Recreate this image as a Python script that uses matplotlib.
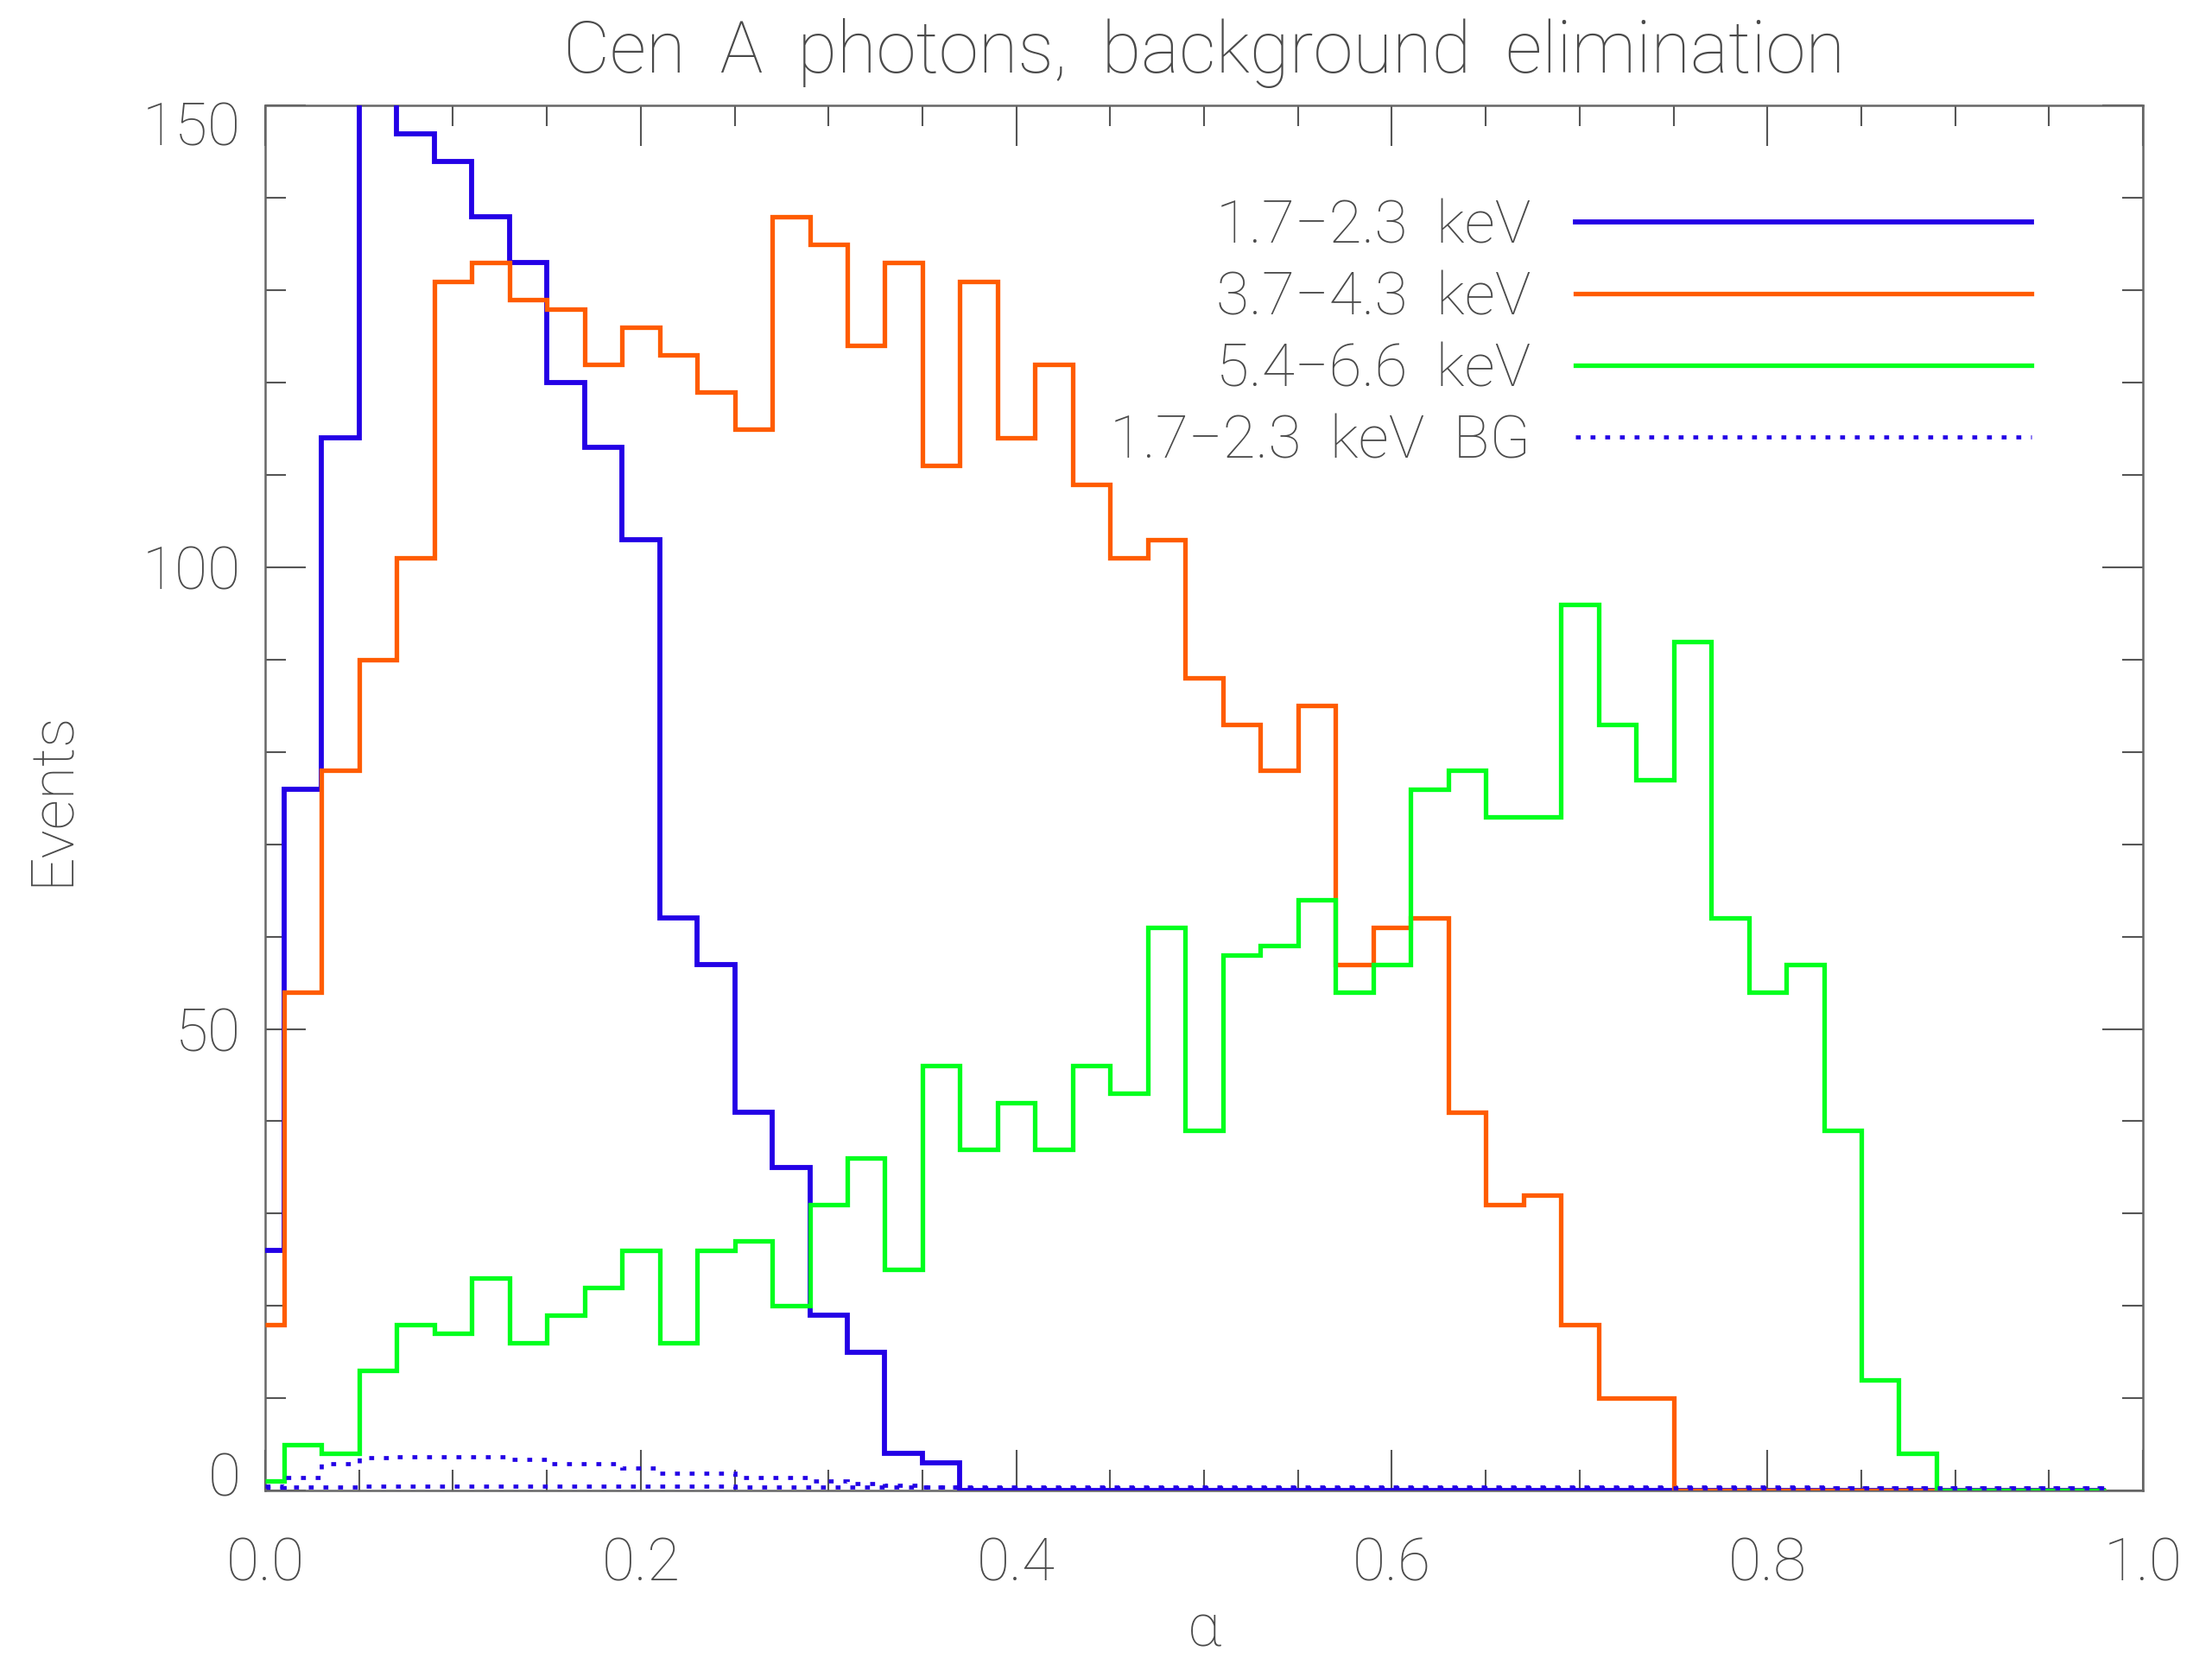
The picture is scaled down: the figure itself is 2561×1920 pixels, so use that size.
import numpy as np
import matplotlib
matplotlib.use("Agg")
import matplotlib.pyplot as plt
import matplotlib.transforms as mtransforms
from matplotlib.ticker import MultipleLocator, FixedLocator

# ---- data (bin centres in alpha, step 0.02) ----
alpha = np.round(np.arange(50) * 0.02, 2)

blue_17_23 = [26, 76, 114, 160, 147, 144, 138, 133, 120, 113,
              103, 62, 57, 41, 35, 19, 15, 4, 3, 0,
              0, 0, 0, 0, 0, 0, 0, 0, 0, 0,
              0, 0, 0, 0, 0, 0, 0, 0, 0, 0,
              0, 0, 0, 0, 0, 0, 0, 0, 0, 0]

orange_37_43 = [18, 54, 78, 90, 101, 131, 133, 129, 128, 122,
                126, 123, 119, 115, 138, 135, 124, 133, 111, 131,
                114, 122, 109, 101, 103, 88, 83, 78, 85, 57,
                61, 62, 41, 31, 32, 18, 10, 10, 0, 0,
                0, 0, 0, 0, 0, 0, 0, 0, 0, 0]

green_54_66 = [1, 5, 4, 13, 18, 17, 23, 16, 19, 22,
               26, 16, 26, 27, 20, 31, 36, 24, 46, 37,
               42, 37, 46, 43, 61, 39, 58, 59, 64, 54,
               57, 76, 78, 73, 73, 96, 83, 77, 92, 62,
               54, 57, 39, 12, 4, 0, 0, 0, 0, 0]

bg_17_23 = [0.5, 1.4, 2.9, 3.6, 3.7, 3.7, 3.7, 3.4, 2.9, 2.9,
            2.4, 1.9, 1.9, 1.4, 1.4, 1.0, 0.8, 0.6, 0.4, 0.3,
            0.3, 0.3, 0.3, 0.3, 0.3, 0.3, 0.3, 0.3, 0.3, 0.3,
            0.3, 0.3, 0.3, 0.3, 0.3, 0.3, 0.3, 0.3, 0.3, 0.3,
            0.3, 0.3, 0.3, 0.3, 0.3, 0.3, 0.3, 0.3, 0.3, 0.3]

bg_low = [0.3, 0.4, 0.4, 0.5, 0.5, 0.5, 0.5, 0.5, 0.5, 0.5,
          0.5, 0.5, 0.5, 0.4, 0.4, 0.4, 0.4, 0.4, 0.4, 0.4,
          0.4, 0.4, 0.4, 0.4, 0.4, 0.4, 0.4, 0.4, 0.4, 0.4,
          0.4, 0.4, 0.4, 0.4, 0.4, 0.4, 0.4, 0.4, 0.4, 0.4,
          0.4, 0.4, 0.3, 0.3, 0.3, 0.3, 0.3, 0.3, 0.3, 0.3]

labels = ["1.7\u22122.3  keV", "3.7\u22124.3  keV", "5.4\u22126.6  keV", "1.7\u22122.3  keV  BG"]
xticks = [0.0, 0.2, 0.4, 0.6, 0.8, 1.0]
yticks = [0, 50, 100, 150]

# ---- style ----
FONT = ["Roboto", "DejaVu Sans"]
plt.rcParams["font.family"] = FONT
TXT = "#4a4a4a"
C_BLUE = "#2300e6"
C_ORANGE = "#ff5c00"
C_GREEN = "#00ff1e"
FS = 50

fig = plt.figure(figsize=(25.61, 19.20), dpi=100)
ax = fig.add_axes([0.1199, 0.1010, 0.8489, 0.8352])

# IDL psym=10 style edges: half bins at both ends
edges = np.concatenate([[alpha[0]], (alpha[:-1] + alpha[1:]) / 2, [alpha[-1]]])

dot = (0, (1.2, 2.4))
ax.stairs(bg_low, edges, baseline=None, color=C_BLUE, lw=3.4, linestyle=dot, zorder=2)
ax.stairs(blue_17_23, edges, baseline=None, color=C_BLUE, lw=4.2, label=labels[0], zorder=3)
ax.stairs(orange_37_43, edges, baseline=None, color=C_ORANGE, lw=3.8, label=labels[1], zorder=3)
ax.stairs(green_54_66, edges, baseline=None, color=C_GREEN, lw=3.8, label=labels[2], zorder=3)
ax.stairs(bg_17_23, edges, baseline=None, color=C_BLUE, lw=3.4, linestyle=dot, label=labels[3], zorder=4)

ax.set_xlim(0, 1.0)
ax.set_ylim(0, 150)

ax.xaxis.set_major_locator(FixedLocator(xticks))
ax.xaxis.set_minor_locator(MultipleLocator(0.05))
ax.yaxis.set_major_locator(FixedLocator(yticks))
ax.yaxis.set_minor_locator(MultipleLocator(10))
ax.set_xticklabels([f"{v:.1f}" for v in xticks])
ax.set_yticklabels([str(v) for v in yticks])

ax.tick_params(which="both", direction="in", top=True, right=True, color="#555555", width=1.5)
ax.tick_params(which="major", length=34)
ax.tick_params(which="minor", length=17)
ax.tick_params(axis="x", which="major", pad=38, labelsize=FS, labelcolor=TXT)
ax.tick_params(axis="y", which="major", pad=20, labelsize=FS, labelcolor=TXT)

for s in ax.spines.values():
    s.set_color("#666666")
    s.set_linewidth(1.8)

ax.set_xlabel("\u03b1", fontsize=FS, color=TXT, labelpad=8, fontweight="light")
ax.set_ylabel("Events", fontsize=FS, color=TXT, labelpad=52, fontweight="light")
ax.set_title("Cen  A  photons,  background  elimination", fontsize=60, color=TXT,
             pad=28, fontweight="light")

leg = ax.legend(loc="upper right", bbox_to_anchor=(0.9407, 0.933), markerfirst=False,
                frameon=False, fontsize=FS, handlelength=7.6, handletextpad=0.75,
                labelspacing=0.25, borderpad=0, borderaxespad=0)
for t in leg.get_texts():
    t.set_color(TXT)
    t.set_fontweight("light")

fig.canvas.draw()
# IDL nudges the end labels of the y axis inward
yl = ax.get_yticklabels()
for lab in ax.get_xticklabels() + yl:
    lab.set_fontweight("light")
up = mtransforms.ScaledTranslation(0, 0.19, fig.dpi_scale_trans)
down = mtransforms.ScaledTranslation(0, -0.20, fig.dpi_scale_trans)
yl[0].set_transform(yl[0].get_transform() + up)
yl[-1].set_transform(yl[-1].get_transform() + down)

fig.savefig("out.png", dpi=100, facecolor="white")
